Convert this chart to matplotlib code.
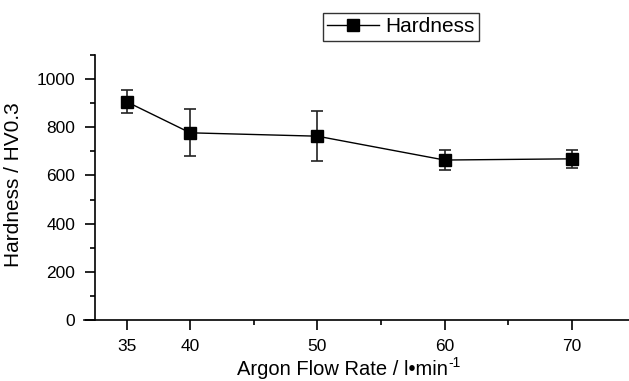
import matplotlib
matplotlib.use("Agg")
import matplotlib.pyplot as plt
from matplotlib.ticker import MultipleLocator, FixedLocator
from matplotlib.lines import Line2D

plt.rcParams['font.family'] = ['Liberation Sans', 'DejaVu Sans']

flow = [35, 40, 50, 60, 70]
hardness = [906, 777, 763, 664, 669]
err = [48, 98, 105, 40, 36]
xticks = [35, 40, 50, 60, 70]
xminor = [45, 55, 65]

fig = plt.figure(figsize=(6.29, 3.81), dpi=100)
ax = fig.add_axes([84/629, 1-320/381, 1-84/629, (320-55)/381])

ax.errorbar(flow, hardness, yerr=err, color='black', lw=1.0, marker='s',
            markersize=8, ecolor='#222222', elinewidth=1.2, capsize=4.5,
            capthick=1.2)

ax.set_xlim(31.65, 74.5)
ax.set_ylim(0, 1100)
ax.spines['right'].set_visible(False)
ax.spines['top'].set_visible(False)
ax.spines['left'].set_position(('data', 32.5))
for s in ('left', 'bottom'):
    ax.spines[s].set_linewidth(1.2)

ax.xaxis.set_major_locator(FixedLocator(xticks))
ax.xaxis.set_minor_locator(FixedLocator(xminor))
ax.yaxis.set_major_locator(MultipleLocator(200))
ax.yaxis.set_minor_locator(MultipleLocator(100))
ax.tick_params(which='major', length=7.5, width=1.2, labelsize=12.5, pad=6.5, direction='out')
ax.tick_params(which='minor', length=3.8, width=1.2, direction='out')

ax.set_ylabel('Hardness / HV0.3', fontsize=15)
ax.yaxis.set_label_coords((23-84)/(629-84), (320-185)/(320-55))

# x label with a plain-hyphen superscript
xl = fig.text(0, 1-375/381, 'Argon Flow Rate / l\u2022min', fontsize=14.5,
              ha='left', va='baseline')
sup = fig.text(0, 1-375/381, '-1', fontsize=10, ha='left', va='baseline')
fig.canvas.draw()
r = fig.canvas.get_renderer()
w_main = xl.get_window_extent(r).width
w_sup = sup.get_window_extent(r).width
total = w_main + w_sup + 1
x0 = 349 - total / 2
xl.set_x(x0 / 629)
sup.set_x((x0 + w_main + 1) / 629)
sup.set_y(1 - 367/381)

handle = Line2D([], [], color='black', lw=1.0, marker='s', markersize=8)
leg = ax.legend([handle], ['Hardness'], loc='upper left',
                bbox_to_anchor=(322.7/629, 1-13.3/381),
                bbox_transform=fig.transFigure, borderaxespad=0, fontsize=15,
                handlelength=2.5, fancybox=False, frameon=True, borderpad=0.2,
                handletextpad=0.3)
leg.get_frame().set_edgecolor('black')
leg.get_frame().set_linewidth(1.0)

fig.savefig('out.png', dpi=100)
